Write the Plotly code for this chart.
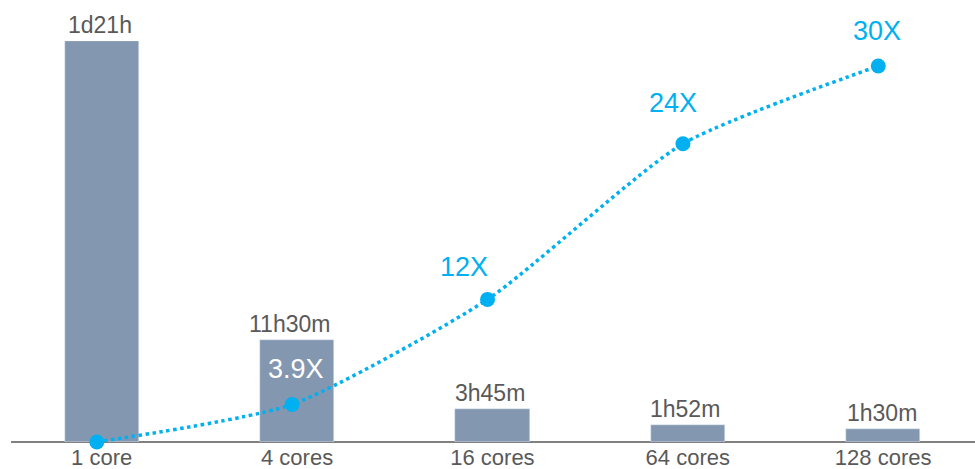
import plotly.graph_objects as go

categories = ["1 core", "4 cores", "16 cores", "64 cores", "128 cores"]
runtime_minutes = [2700, 690, 225, 112, 90]
runtime_labels = ["1d21h", "11h30m", "3h45m", "1h52m", "1h30m"]
speedup = [1, 3.9, 12, 24, 30]
speedup_labels = ["", "3.9X", "12X", "24X", "30X"]
speedup_label_colors = ["#00B0F0", "#FFFFFF", "#00B0F0", "#00B0F0", "#00B0F0"]

# style: small label offsets (pixels)
speedup_label_xshift = [0, 4, -24, -10, -1]
speedup_label_yshift = [35, 35, 32, 41, 35]
bar_label_xshift = [-2, -8, -2, -3, -1]

FONT = "Liberation Sans, Arial, sans-serif"
GREY = "#595959"
BLUE = "#00B0F0"

x_idx = list(range(len(categories)))

fig = go.Figure()
fig.add_trace(go.Bar(
    x=x_idx, y=runtime_minutes, marker_color="#8497B0", width=0.38,
    hoverinfo="skip", showlegend=False,
))
fig.add_trace(go.Scatter(
    x=x_idx, y=speedup, xaxis="x2", yaxis="y2", mode="lines+markers",
    line=dict(color=BLUE, width=3.5, dash="dot", shape="spline", smoothing=0.6),
    marker=dict(color=BLUE, size=15), showlegend=False, cliponaxis=False,
))

annotations = []
for i, (v, lab) in enumerate(zip(runtime_minutes, runtime_labels)):
    annotations.append(dict(
        x=i, y=v, xref="x", yref="y", text=lab, showarrow=False,
        yanchor="middle", yshift=16, xshift=bar_label_xshift[i],
        font=dict(family=FONT, size=23, color=GREY),
    ))
for i, (v, lab) in enumerate(zip(speedup, speedup_labels)):
    if not lab:
        continue
    annotations.append(dict(
        x=i, y=v, xref="x2", yref="y2", text=lab, showarrow=False,
        yanchor="middle", yshift=speedup_label_yshift[i], xshift=speedup_label_xshift[i],
        font=dict(family=FONT, size=27, color=speedup_label_colors[i]),
    ))

plot_h = 469 - 41 - 27
px_per_unit = (442 - 66) / 29.0
y2_top = 1 + plot_h / px_per_unit

fig.update_layout(
    width=975, height=469,
    margin=dict(l=4, r=0, t=41, b=27),
    paper_bgcolor="white", plot_bgcolor="white",
    bargap=0,
    xaxis=dict(
        range=[-0.5, 4.47], tickmode="array", tickvals=x_idx, ticktext=categories,
        showgrid=False, zeroline=False, showline=False, ticks="", ticklen=0,
        tickfont=dict(family=FONT, size=22, color=GREY), automargin=False,
    ),
    xaxis2=dict(
        range=[-0.475, 4.495], overlaying="x", visible=False,
    ),
    yaxis=dict(range=[0, 2700], visible=False, fixedrange=True),
    yaxis2=dict(range=[1, y2_top], overlaying="y", visible=False),
    annotations=annotations,
    shapes=[dict(
        type="line", xref="paper", yref="paper", x0=(11 - 4) / 971, x1=1, y0=0, y1=0,
        line=dict(color="#808080", width=2), layer="below",
    )],
)

fig.write_html("out.html")
